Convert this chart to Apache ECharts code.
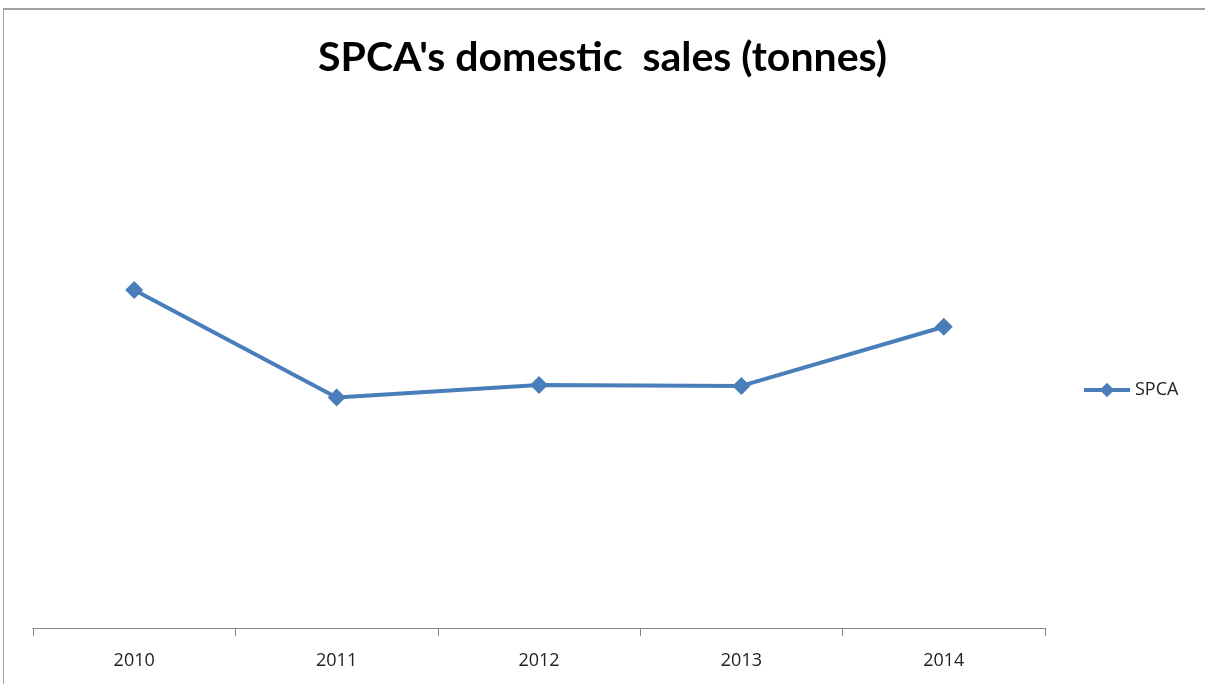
<!DOCTYPE html>
<html>
<head>
<meta charset="utf-8">
<script src="https://cdn.jsdelivr.net/npm/echarts@6/dist/echarts.min.js"></script>
<style>
html,body{margin:0;padding:0;background:#fff;}
#frame{position:absolute;left:3px;top:8px;width:1202px;height:676px;border-top:2px solid #a0a0a0;border-left:1px solid #a0a0a0;box-sizing:border-box;}
#chart{position:absolute;left:0;top:0;width:1205px;height:684px;}
</style>
</head>
<body>
<div id="frame"></div>
<div id="chart"></div>
<script>
const categories = ['2010', '2011', '2012', '2013', '2014'];
const seriesName = 'SPCA';
const spcaValues = [377, 257, 271, 270, 336];

const chart = echarts.init(document.getElementById('chart'));
chart.setOption({
  backgroundColor: 'transparent',
  title: {
    text: "SPCA's domestic  sales (tonnes)",
    left: 'center',
    top: 32,
    textStyle: { fontFamily: 'Lato', fontWeight: 'bold', fontSize: 41, color: '#000' }
  },
  legend: {
    data: [seriesName],
    left: 1077,
    top: 376,
    orient: 'vertical',
    itemWidth: 46,
    itemHeight: 18,
    itemGap: 6,
    lineStyle: { width: 4, color: '#4a7ebb' },
    textStyle: { fontFamily: 'Open Sans', fontSize: 18, color: '#222' }
  },
  grid: { left: 33, right: 160, top: 90, bottom: 56 },
  xAxis: {
    type: 'category',
    data: categories,
    boundaryGap: true,
    axisLine: { lineStyle: { color: '#868686', width: 1 } },
    axisTick: { show: true, length: 8, lineStyle: { color: '#868686' } },
    axisLabel: { fontFamily: 'Open Sans', fontSize: 18, color: '#222', margin: 24 }
  },
  yAxis: {
    type: 'value',
    min: 0,
    max: 600,
    show: false,
    splitLine: { show: false }
  },
  series: [{
    name: seriesName,
    type: 'line',
    data: spcaValues,
    symbol: 'diamond',
    symbolSize: 18,
    lineStyle: { color: '#4a7ebb', width: 4 },
    itemStyle: { color: '#4a7ebb' }
  }]
});
</script>
</body>
</html>
